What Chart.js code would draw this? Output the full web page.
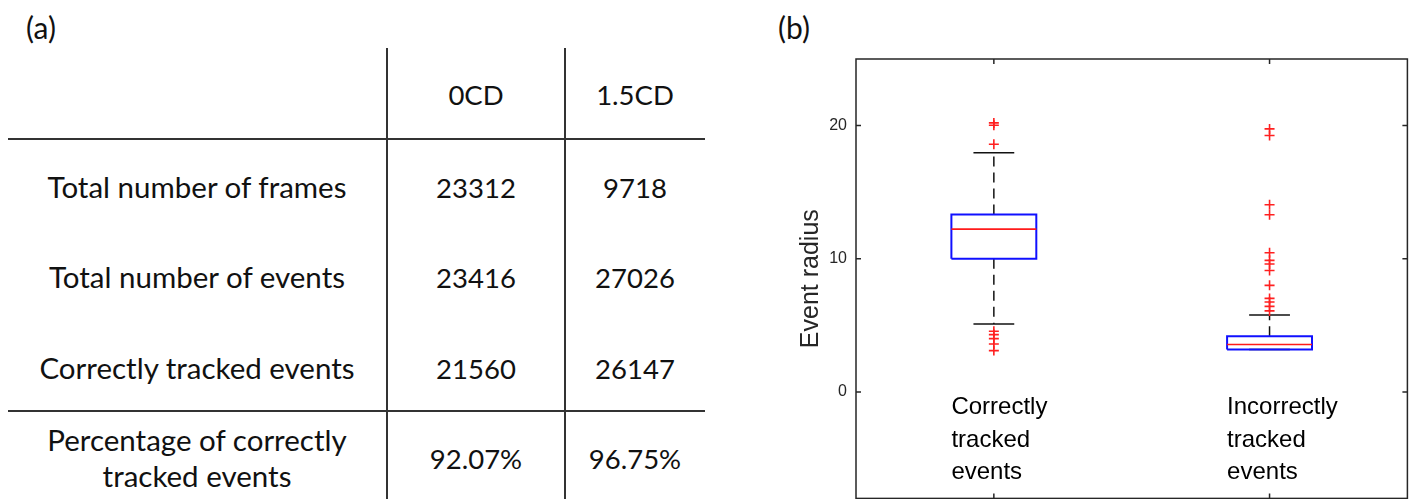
<!DOCTYPE html>
<html><head><meta charset="utf-8">
<script src="https://cdn.jsdelivr.net/npm/chart.js@4.4.1/dist/chart.umd.min.js"></script>
<style>
html,body{margin:0;padding:0;background:#fff;}
#page{position:relative;width:1414px;height:499px;overflow:hidden;background:#fff;font-family:Lato,'Open Sans',sans-serif;color:#111;}
.t{position:absolute;transform:translate(-50%,-50%);white-space:nowrap;text-align:center;font-size:27.5px;line-height:36px;}
.lab{font-size:29.5px;}
.pl{font-size:30px;}
.hl{position:absolute;height:2px;background:#333;}
.vl{position:absolute;width:2px;background:#333;}
#chartWrap{position:absolute;left:780px;top:0;width:634px;height:505px;}
canvas{display:block;}
</style></head><body>
<div id="page">
  <div id="table"></div>
  <div id="chartWrap"><canvas id="c" width="634" height="505"></canvas></div>
</div>
<script>
// ---------- (a) table data ----------
const TABLE_COLUMNS = ['0CD', '1.5CD'];
const TABLE_ROWS = ['Total number of frames', 'Total number of events', 'Correctly tracked events', 'Percentage of correctly<br>tracked events'];
const VALUES_0CD = ['23312', '23416', '21560', '92.07%'];
const VALUES_15CD = ['9718', '27026', '26147', '96.75%'];

// ---------- (b) box plot data ----------
const CATEGORY_LINES = [['Correctly', 'tracked', 'events'], ['Incorrectly', 'tracked', 'events']];
const X_TICKS = [1, 2];
const Y_TICKS = [0, 10, 20];
const Q1 = [10.0, 3.18];
const MEDIAN = [12.22, 3.56];
const Q3 = [13.33, 4.18];
const WHISKER_LOW = [5.1, 3.18];
const WHISKER_HIGH = [17.95, 5.78];
const OUTLIERS_CORRECT = [20.2, 20.02, 18.6, 4.55, 4.3, 4.0, 3.6, 3.1];
const OUTLIERS_INCORRECT = [19.75, 19.25, 14.05, 13.3, 10.45, 9.88, 9.6, 9.12, 8.0, 7.02, 6.75, 6.42, 6.08];

// ---------- table layout ----------
(function buildTable(){
  const t = document.getElementById('table');
  const colX = [197, 476, 635];
  const headerY = 95;
  const rowY = [187, 277, 368, 458];
  let html = '';
  html += `<div class="t pl" style="left:41px;top:27px">(a)</div>`;
  html += `<div class="t pl" style="left:794px;top:27px">(b)</div>`;
  TABLE_COLUMNS.forEach((c, j) => { html += `<div class="t" style="left:${colX[j+1]}px;top:${headerY}px">${c}</div>`; });
  TABLE_ROWS.forEach((r, i) => {
    html += `<div class="t lab" style="left:${colX[0]}px;top:${rowY[i]}px">${r}</div>`;
    html += `<div class="t" style="left:${colX[1]}px;top:${rowY[i]+1}px">${VALUES_0CD[i]}</div>`;
    html += `<div class="t" style="left:${colX[2]}px;top:${rowY[i]+1}px">${VALUES_15CD[i]}</div>`;
  });
  html += `<div class="vl" style="left:386px;top:48px;height:451px"></div>`;
  html += `<div class="vl" style="left:564px;top:48px;height:451px"></div>`;
  html += `<div class="hl" style="left:8px;top:138px;width:697px"></div>`;
  html += `<div class="hl" style="left:8px;top:410px;width:697px"></div>`;
  t.innerHTML = html;
})();

// ---------- chart ----------
const BOX_HALF = 0.154;
const CAP_HALF = 0.074;
const LABEL_Y = -1.2;
const LABEL_LINE_H = 32.5;

function seg(points, color, width, dash, order){
  return {data: points, showLine: true, borderColor: color, borderWidth: width, borderDash: dash || [],
          pointRadius: 0, pointHoverRadius: 0, fill: false, tension: 0, order: order};
}
const datasets = [];
X_TICKS.forEach((xc, i) => {
  if (WHISKER_HIGH[i] > Q3[i]) {
    datasets.push(seg([{x: xc, y: Q3[i]}, {x: xc, y: WHISKER_HIGH[i]}], '#111', 1.5, [10, 6], 4));
  }
  if (WHISKER_LOW[i] < Q1[i]) {
    datasets.push(seg([{x: xc, y: Q1[i]}, {x: xc, y: WHISKER_LOW[i]}], '#111', 1.5, [10, 6], 4));
  }
  datasets.push(seg([{x: xc - CAP_HALF, y: WHISKER_HIGH[i]}, {x: xc + CAP_HALF, y: WHISKER_HIGH[i]}], '#111', 1.5, [], 3));
  datasets.push(seg([{x: xc - CAP_HALF, y: WHISKER_LOW[i]}, {x: xc + CAP_HALF, y: WHISKER_LOW[i]}], '#111', 1.5, [], 3));
  datasets.push(seg([
    {x: xc - BOX_HALF, y: Q1[i]}, {x: xc + BOX_HALF, y: Q1[i]},
    {x: xc + BOX_HALF, y: Q3[i]}, {x: xc - BOX_HALF, y: Q3[i]}, {x: xc - BOX_HALF, y: Q1[i]}
  ], '#1010ff', 2, [], 2));
  datasets.push(seg([{x: xc - BOX_HALF, y: MEDIAN[i]}, {x: xc + BOX_HALF, y: MEDIAN[i]}], '#ff1a1a', 1.6, [], 1));
});
[OUTLIERS_CORRECT, OUTLIERS_INCORRECT].forEach((arr, i) => {
  datasets.push({data: arr.map(v => ({x: X_TICKS[i], y: v})), showLine: false, pointStyle: 'cross',
    pointRadius: 5, pointHoverRadius: 5, borderColor: '#ff2020', pointBorderWidth: 1.6, backgroundColor: '#ff2020', order: 0});
});

const frameTicks = {
  id: 'frameTicks',
  afterDatasetsDraw(chart){
    const {ctx, chartArea: a, scales: {x, y}} = chart;
    ctx.save();
    ctx.strokeStyle = '#262626'; ctx.lineWidth = 1.5;
    ctx.strokeRect(a.left, a.top, a.right - a.left, a.bottom - a.top);
    const L = 5;
    ctx.beginPath();
    Y_TICKS.forEach(v => { const py = y.getPixelForValue(v);
      ctx.moveTo(a.left, py); ctx.lineTo(a.left + L, py); ctx.moveTo(a.right, py); ctx.lineTo(a.right - L, py); });
    X_TICKS.forEach(v => { const px = x.getPixelForValue(v);
      ctx.moveTo(px, a.bottom); ctx.lineTo(px, a.bottom - L); ctx.moveTo(px, a.top); ctx.lineTo(px, a.top + L); });
    ctx.stroke();
    ctx.fillStyle = '#000'; ctx.font = '24px "Liberation Sans", Arial, sans-serif';
    ctx.textAlign = 'left'; ctx.textBaseline = 'middle';
    CATEGORY_LINES.forEach((lines, i) => {
      const px = x.getPixelForValue(X_TICKS[i] - BOX_HALF);
      const py0 = y.getPixelForValue(LABEL_Y);
      lines.forEach((s, j) => ctx.fillText(s, px, py0 + j * LABEL_LINE_H));
    });
    ctx.restore();
  }
};

new Chart(document.getElementById('c'), {
  type: 'scatter',
  data: {datasets},
  options: {
    responsive: false, animation: false, devicePixelRatio: 1,
    layout: {padding: {top: 59, right: 6, bottom: 3, left: 0}},
    plugins: {legend: {display: false}, tooltip: {enabled: false}},
    scales: {
      x: {type: 'linear', min: 0.5, max: 2.5, offset: false, display: false,
          afterBuildTicks: s => { s.ticks = X_TICKS.map(v => ({value: v})); }},
      y: {type: 'linear', min: -8, max: 25,
          grid: {display: false, drawTicks: false}, border: {display: false},
          afterBuildTicks: s => { s.ticks = Y_TICKS.map(v => ({value: v})); },
          ticks: {padding: 9, color: '#262626', font: {family: '"Liberation Sans", Arial, sans-serif', size: 16}},
          title: {display: true, text: 'Event radius', color: '#262626', padding: {top: 16, bottom: 0},
                  font: {family: '"Liberation Sans", Arial, sans-serif', size: 25}},
          afterFit: s => { s.width = 76; s.paddingTop = 0; s.paddingBottom = 0; }}
    }
  },
  plugins: [frameTicks]
});
</script>
</body></html>
